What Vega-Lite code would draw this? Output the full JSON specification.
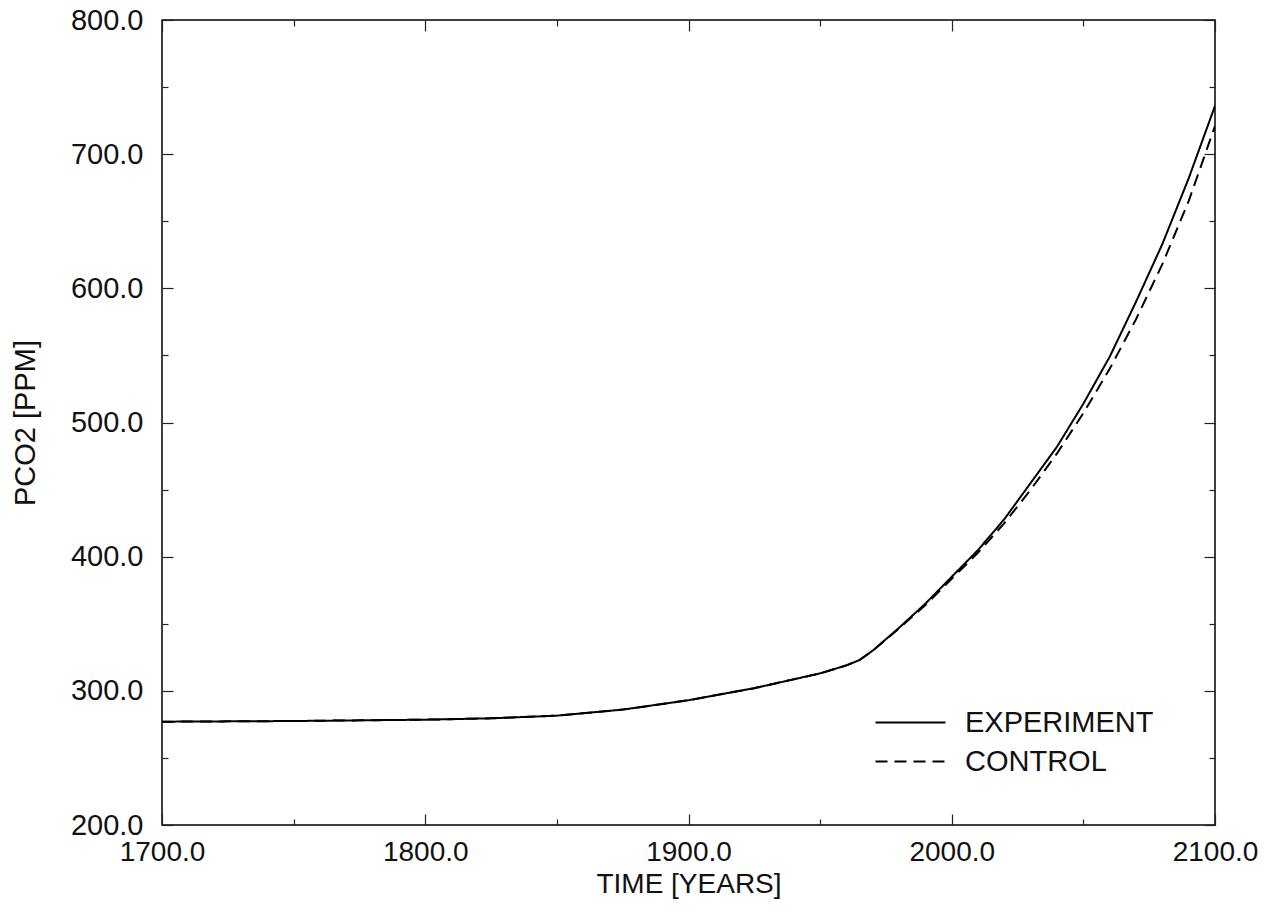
{
  "$schema": "https://vega.github.io/schema/vega-lite/v6.json",
  "width": 1053,
  "height": 805,
  "autosize": {"type": "none"},
  "padding": {"left": 162, "top": 20, "right": 63, "bottom": 87},
  "background": "white",
  "config": {
    "font": "Liberation Sans",
    "view": {"stroke": "black", "strokeWidth": 1.5},
    "axis": {
      "domain": false,
      "grid": false,
      "labelFont": "Liberation Sans",
      "labelFontSize": 29,
      "labelColor": "#111",
      "labelFlush": false,
      "labelOverlap": false,
      "labelBound": false,
      "titleFont": "Liberation Sans",
      "titleFontSize": 29,
      "titleFontWeight": "normal",
      "titleColor": "#111",
      "tickColor": "#222",
      "tickWidth": 1.2
    },
    "legend": {
      "labelFont": "Liberation Sans",
      "labelFontSize": 29,
      "labelColor": "#111",
      "labelLimit": 0
    }
  },
  "data": {
    "values": [
      {"series": "EXPERIMENT", "year": 1700, "pco2": 277},
      {"series": "EXPERIMENT", "year": 1750, "pco2": 277.5},
      {"series": "EXPERIMENT", "year": 1800, "pco2": 278.5},
      {"series": "EXPERIMENT", "year": 1825, "pco2": 279.5},
      {"series": "EXPERIMENT", "year": 1850, "pco2": 281.5},
      {"series": "EXPERIMENT", "year": 1875, "pco2": 286},
      {"series": "EXPERIMENT", "year": 1900, "pco2": 293},
      {"series": "EXPERIMENT", "year": 1925, "pco2": 302},
      {"series": "EXPERIMENT", "year": 1950, "pco2": 313},
      {"series": "EXPERIMENT", "year": 1960, "pco2": 319},
      {"series": "EXPERIMENT", "year": 1965, "pco2": 323},
      {"series": "EXPERIMENT", "year": 1970, "pco2": 330},
      {"series": "EXPERIMENT", "year": 1980, "pco2": 347},
      {"series": "EXPERIMENT", "year": 1990, "pco2": 365},
      {"series": "EXPERIMENT", "year": 2000, "pco2": 385},
      {"series": "EXPERIMENT", "year": 2010, "pco2": 405},
      {"series": "EXPERIMENT", "year": 2020, "pco2": 428},
      {"series": "EXPERIMENT", "year": 2030, "pco2": 455},
      {"series": "EXPERIMENT", "year": 2040, "pco2": 482},
      {"series": "EXPERIMENT", "year": 2050, "pco2": 514},
      {"series": "EXPERIMENT", "year": 2060, "pco2": 549},
      {"series": "EXPERIMENT", "year": 2070, "pco2": 590},
      {"series": "EXPERIMENT", "year": 2080, "pco2": 633},
      {"series": "EXPERIMENT", "year": 2090, "pco2": 682},
      {"series": "EXPERIMENT", "year": 2100, "pco2": 736},
      {"series": "CONTROL", "year": 1700, "pco2": 277},
      {"series": "CONTROL", "year": 1750, "pco2": 277.5},
      {"series": "CONTROL", "year": 1800, "pco2": 278.5},
      {"series": "CONTROL", "year": 1825, "pco2": 279.5},
      {"series": "CONTROL", "year": 1850, "pco2": 281.5},
      {"series": "CONTROL", "year": 1875, "pco2": 286},
      {"series": "CONTROL", "year": 1900, "pco2": 293},
      {"series": "CONTROL", "year": 1925, "pco2": 302},
      {"series": "CONTROL", "year": 1950, "pco2": 313},
      {"series": "CONTROL", "year": 1960, "pco2": 319},
      {"series": "CONTROL", "year": 1965, "pco2": 323},
      {"series": "CONTROL", "year": 1970, "pco2": 330},
      {"series": "CONTROL", "year": 1980, "pco2": 346.5},
      {"series": "CONTROL", "year": 1990, "pco2": 364},
      {"series": "CONTROL", "year": 2000, "pco2": 383.5},
      {"series": "CONTROL", "year": 2010, "pco2": 403},
      {"series": "CONTROL", "year": 2020, "pco2": 425},
      {"series": "CONTROL", "year": 2030, "pco2": 450},
      {"series": "CONTROL", "year": 2040, "pco2": 477},
      {"series": "CONTROL", "year": 2050, "pco2": 507},
      {"series": "CONTROL", "year": 2060, "pco2": 540},
      {"series": "CONTROL", "year": 2070, "pco2": 577},
      {"series": "CONTROL", "year": 2080, "pco2": 618},
      {"series": "CONTROL", "year": 2090, "pco2": 665},
      {"series": "CONTROL", "year": 2100, "pco2": 721}
    ]
  },
  "encoding": {
    "strokeDash": {
      "field": "series",
      "type": "nominal",
      "scale": {"domain": ["EXPERIMENT", "CONTROL"], "range": [[1, 0], [12, 7]]},
      "legend": {
        "title": null,
        "orient": "none",
        "legendX": 734,
        "legendY": 688,
        "symbolType": "M-3.5,0H3.5",
        "symbolSize": 400,
        "symbolStrokeWidth": 2,
        "symbolStrokeColor": "black",
        "symbolFillColor": "transparent",
        "labelOffset": 40,
        "rowPadding": 9
      }
    }
  },
  "layer": [
    {
      "transform": [{"filter": "datum.series === 'EXPERIMENT'"}],
      "mark": {"type": "line", "color": "black", "strokeWidth": 2, "clip": true},
      "encoding": {
        "x": {
          "field": "year",
          "type": "quantitative",
          "scale": {"domain": [1700, 2100], "nice": false, "zero": false},
          "axis": {
            "orient": "bottom",
            "title": "TIME [YEARS]",
            "values": [1700, 1750, 1800, 1850, 1900, 1950, 2000, 2050, 2100],
            "labelExpr": "datum.value % 100 === 0 ? format(datum.value, '.1f') : ''",
            "tickSize": {"condition": {"test": "datum.value % 100 === 0", "value": -11}, "value": -6},
            "labelFontSize": 28,
            "titleFontSize": 28,
            "labelPadding": 24,
            "titlePadding": -1
          }
        },
        "y": {
          "field": "pco2",
          "type": "quantitative",
          "scale": {"domain": [200, 800], "nice": false, "zero": false},
          "axis": {
            "orient": "left",
            "title": "PCO2 [PPM]",
            "values": [200, 250, 300, 350, 400, 450, 500, 550, 600, 650, 700, 750, 800],
            "labelExpr": "datum.value % 100 === 0 ? format(datum.value, '.1f') : ''",
            "tickSize": {"condition": {"test": "datum.value % 100 === 0", "value": -11}, "value": -6},
            "labelPadding": 30,
            "titlePadding": 30
          }
        }
      }
    },
    {
      "transform": [{"filter": "datum.series === 'CONTROL'"}],
      "mark": {"type": "line", "color": "black", "strokeWidth": 2, "clip": true},
      "encoding": {
        "x": {
          "field": "year",
          "type": "quantitative",
          "scale": {"domain": [1700, 2100], "nice": false, "zero": false},
          "axis": {
            "orient": "top",
            "title": null,
            "labels": false,
            "values": [1700, 1750, 1800, 1850, 1900, 1950, 2000, 2050, 2100],
            "tickSize": {"condition": {"test": "datum.value % 100 === 0", "value": -11}, "value": -6}
          }
        },
        "y": {
          "field": "pco2",
          "type": "quantitative",
          "scale": {"domain": [200, 800], "nice": false, "zero": false},
          "axis": {
            "orient": "right",
            "title": null,
            "labels": false,
            "values": [200, 250, 300, 350, 400, 450, 500, 550, 600, 650, 700, 750, 800],
            "tickSize": {"condition": {"test": "datum.value % 100 === 0", "value": -11}, "value": -6}
          }
        }
      }
    }
  ],
  "resolve": {"axis": {"x": "independent", "y": "independent"}}
}
